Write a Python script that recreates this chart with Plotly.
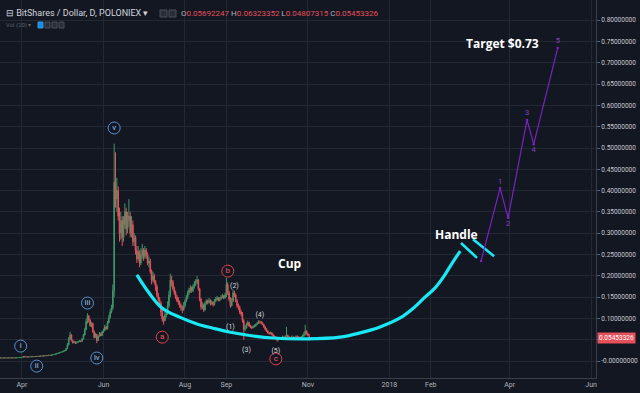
import plotly.graph_objects as go
import pandas as pd

# ---------------- data (daily candles, BTS/USD Poloniex) ----------------
start_date = "2017-03-15"
first_open = 0.0071

closes = [
    # Mar 15-31
    0.0070, 0.0072, 0.0069, 0.0071, 0.0073, 0.0070, 0.0072, 0.0074, 0.0071, 0.0073, 0.0075, 0.0072, 0.0074, 0.0076, 0.0078, 0.0080, 0.0082,
    # Apr
    0.0088, 0.0105, 0.0098, 0.0094, 0.0096, 0.0099, 0.0097, 0.0101, 0.0104, 0.0102, 0.0106, 0.0110, 0.0108, 0.0113, 0.0118,
    0.0115, 0.0121, 0.0126, 0.0123, 0.0130, 0.0136, 0.0133, 0.0141, 0.0148, 0.0155, 0.0162, 0.0175, 0.0186, 0.0198, 0.0205,
    # May
    0.0218, 0.0232, 0.0245, 0.0290, 0.0380, 0.0520, 0.0610, 0.0480, 0.0430, 0.0450, 0.0420, 0.0440, 0.0455, 0.0470, 0.0460, 0.0520,
    0.0610, 0.0740, 0.0920, 0.1050, 0.0960, 0.0830, 0.0880, 0.0690, 0.0560, 0.0620, 0.0480, 0.0580, 0.0640, 0.0600, 0.0680,
    # Jun
    0.0720, 0.0800, 0.0760, 0.0900, 0.1020, 0.1150, 0.1250, 0.1650, 0.4200, 0.3800, 0.4000, 0.3400, 0.3000, 0.3300, 0.2900,
    0.3200, 0.3500, 0.3100, 0.3300, 0.3400, 0.3000, 0.3200, 0.2800, 0.2900, 0.2600, 0.2400, 0.2550, 0.2300, 0.2500, 0.2600,
    # Jul
    0.2450, 0.2600, 0.2500, 0.2300, 0.2350, 0.2100, 0.1900, 0.2000, 0.1850, 0.1750, 0.1550, 0.1450, 0.1360, 0.1150, 0.0980, 0.0950,
    0.1080, 0.1120, 0.1300, 0.1550, 0.1900, 0.1850, 0.1700, 0.1600, 0.1500, 0.1420, 0.1380, 0.1300, 0.1250, 0.1200, 0.1300,
    # Aug
    0.1400, 0.1500, 0.1600, 0.1670, 0.1720, 0.1650, 0.1750, 0.1820, 0.1850, 0.1900, 0.1700, 0.1450, 0.1270, 0.1300, 0.1200, 0.1350,
    0.1400, 0.1380, 0.1420, 0.1350, 0.1380, 0.1320, 0.1400, 0.1450, 0.1480, 0.1420, 0.1460, 0.1500, 0.1520, 0.1480, 0.1550,
    # Sep
    0.1800, 0.1600, 0.1450, 0.1300, 0.1400, 0.1600, 0.1550, 0.1400, 0.1300, 0.1250, 0.1150, 0.1100, 0.0950, 0.0750, 0.0780,
    0.0850, 0.0900, 0.0820, 0.0800, 0.0780, 0.0800, 0.0820, 0.0850, 0.0880, 0.0920, 0.0910, 0.0900, 0.0860, 0.0800, 0.0750,
    # Oct
    0.0700, 0.0660, 0.0640, 0.0660, 0.0620, 0.0580, 0.0560, 0.0540, 0.0500, 0.0520, 0.0540, 0.0530, 0.0560, 0.0550, 0.0570, 0.0600,
    0.0560, 0.0540, 0.0550, 0.0560, 0.0540, 0.0550, 0.0570, 0.0560, 0.0550, 0.0540, 0.0560, 0.0580, 0.0620, 0.0700, 0.0640,
    # Nov 1-2
    0.0600, 0.05453326,
]

highs = [
    0.0073, 0.0074, 0.0073, 0.0073, 0.0075, 0.0074, 0.0074, 0.0076, 0.0075, 0.0075, 0.0077, 0.0076, 0.0076, 0.0078, 0.0080, 0.0083, 0.0085,
    0.0092, 0.0118, 0.0108, 0.0100, 0.0099, 0.0102, 0.0101, 0.0104, 0.0107, 0.0106, 0.0109, 0.0113, 0.0112, 0.0116, 0.0121,
    0.0120, 0.0124, 0.0129, 0.0128, 0.0133, 0.0139, 0.0138, 0.0144, 0.0151, 0.0159, 0.0166, 0.0180, 0.0192, 0.0204, 0.0212,
    0.0226, 0.0240, 0.0255, 0.0310, 0.0420, 0.0560, 0.0690, 0.0630, 0.0500, 0.0470, 0.0460, 0.0455, 0.0470, 0.0490, 0.0480, 0.0540,
    0.0640, 0.0780, 0.0980, 0.1120, 0.1080, 0.0980, 0.0920, 0.0900, 0.0720, 0.0660, 0.0640, 0.0600, 0.0680, 0.0670, 0.0710,
    0.0760, 0.0850, 0.0830, 0.0940, 0.1080, 0.1210, 0.1320, 0.1800, 0.5100, 0.4900, 0.4300, 0.4100, 0.3600, 0.3500, 0.3400,
    0.3400, 0.3700, 0.3600, 0.3500, 0.3800, 0.3500, 0.3400, 0.3300, 0.3000, 0.2950, 0.2700, 0.2700, 0.2600, 0.2650, 0.2750,
    0.2650, 0.2700, 0.2650, 0.2550, 0.2450, 0.2400, 0.2150, 0.2100, 0.2050, 0.1900, 0.1800, 0.1600, 0.1500, 0.1400, 0.1200, 0.1050,
    0.1150, 0.1200, 0.1400, 0.1650, 0.2050, 0.2000, 0.1900, 0.1750, 0.1650, 0.1550, 0.1500, 0.1420, 0.1350, 0.1300, 0.1380,
    0.1450, 0.1550, 0.1650, 0.1720, 0.1780, 0.1750, 0.1800, 0.1880, 0.1920, 0.2000, 0.1920, 0.1720, 0.1480, 0.1380, 0.1350, 0.1400,
    0.1450, 0.1440, 0.1480, 0.1450, 0.1420, 0.1400, 0.1450, 0.1500, 0.1530, 0.1500, 0.1500, 0.1550, 0.1580, 0.1550, 0.1600,
    0.1950, 0.1850, 0.1650, 0.1500, 0.1480, 0.1680, 0.1650, 0.1580, 0.1450, 0.1350, 0.1300, 0.1200, 0.1150, 0.0980, 0.0850,
    0.0900, 0.0950, 0.0920, 0.0850, 0.0830, 0.0840, 0.0860, 0.0880, 0.0920, 0.0960, 0.0950, 0.0940, 0.0920, 0.0870, 0.0820,
    0.0770, 0.0720, 0.0680, 0.0690, 0.0680, 0.0640, 0.0600, 0.0580, 0.0560, 0.0550, 0.0560, 0.0560, 0.0600, 0.0580, 0.0600, 0.0800,
    0.0620, 0.0580, 0.0570, 0.0600, 0.0580, 0.0570, 0.0600, 0.0600, 0.0580, 0.0570, 0.0590, 0.0620, 0.0680, 0.0850, 0.0720,
    0.0660, 0.06323352,
]

lows = [
    0.0068, 0.0069, 0.0067, 0.0068, 0.0070, 0.0068, 0.0069, 0.0071, 0.0069, 0.0070, 0.0072, 0.0070, 0.0071, 0.0073, 0.0075, 0.0077, 0.0079,
    0.0080, 0.0087, 0.0095, 0.0091, 0.0092, 0.0094, 0.0095, 0.0096, 0.0099, 0.0100, 0.0101, 0.0104, 0.0106, 0.0107, 0.0111,
    0.0113, 0.0114, 0.0119, 0.0120, 0.0122, 0.0128, 0.0130, 0.0131, 0.0139, 0.0146, 0.0152, 0.0160, 0.0171, 0.0182, 0.0193,
    0.0205, 0.0212, 0.0228, 0.0240, 0.0285, 0.0370, 0.0500, 0.0460, 0.0410, 0.0415, 0.0400, 0.0410, 0.0430, 0.0445, 0.0440, 0.0455,
    0.0510, 0.0600, 0.0720, 0.0880, 0.0900, 0.0800, 0.0790, 0.0660, 0.0530, 0.0540, 0.0420, 0.0470, 0.0560, 0.0580, 0.0590,
    0.0660, 0.0700, 0.0730, 0.0740, 0.0880, 0.1000, 0.1120, 0.1200, 0.1500, 0.3600, 0.3500, 0.3300, 0.2800, 0.2850, 0.2700,
    0.2800, 0.3100, 0.2950, 0.3000, 0.3150, 0.2900, 0.2900, 0.2700, 0.2700, 0.2500, 0.2300, 0.2350, 0.2200, 0.2250, 0.2400,
    0.2350, 0.2400, 0.2400, 0.2250, 0.2200, 0.2050, 0.1800, 0.1850, 0.1800, 0.1650, 0.1500, 0.1400, 0.1300, 0.1050, 0.0920, 0.0850,
    0.0930, 0.1020, 0.1080, 0.1250, 0.1500, 0.1750, 0.1650, 0.1550, 0.1450, 0.1380, 0.1320, 0.1250, 0.1180, 0.1120, 0.1180,
    0.1250, 0.1380, 0.1450, 0.1550, 0.1600, 0.1600, 0.1620, 0.1700, 0.1760, 0.1800, 0.1650, 0.1400, 0.1200, 0.1220, 0.1150, 0.1180,
    0.1320, 0.1330, 0.1350, 0.1300, 0.1320, 0.1280, 0.1300, 0.1380, 0.1420, 0.1400, 0.1400, 0.1440, 0.1470, 0.1450, 0.1460,
    0.1500, 0.1550, 0.1400, 0.1250, 0.1280, 0.1380, 0.1500, 0.1380, 0.1250, 0.1200, 0.1100, 0.1050, 0.0900, 0.0500, 0.0700,
    0.0760, 0.0830, 0.0800, 0.0770, 0.0750, 0.0770, 0.0790, 0.0810, 0.0850, 0.0870, 0.0880, 0.0860, 0.0840, 0.0780, 0.0720,
    0.0680, 0.0640, 0.0620, 0.0630, 0.0600, 0.0560, 0.0540, 0.0520, 0.0450, 0.0480, 0.0510, 0.0510, 0.0520, 0.0530, 0.0540, 0.0550,
    0.0540, 0.0520, 0.0530, 0.0530, 0.0520, 0.0530, 0.0540, 0.0540, 0.0530, 0.0520, 0.0530, 0.0550, 0.0570, 0.0600, 0.0620,
    0.0580, 0.04807315,
]

# cup curve (drawn annotation)
cup_dates = ["2017-06-26", "2017-07-05", "2017-07-15", "2017-07-28", "2017-08-10", "2017-08-22", "2017-09-03",
             "2017-09-16", "2017-10-06", "2017-10-31", "2017-11-25", "2017-12-10", "2017-12-25", "2018-01-09",
             "2018-01-20", "2018-01-27", "2018-02-04", "2018-02-11", "2018-02-17", "2018-02-23"]
cup_values = [0.202, 0.160, 0.124, 0.103, 0.087, 0.077, 0.068,
              0.061, 0.054, 0.052, 0.056, 0.066, 0.080, 0.101,
              0.127, 0.148, 0.171, 0.200, 0.230, 0.258]

# handle strokes
handle1_dates = ["2018-02-23 14:00", "2018-03-07 14:00"]
handle1_values = [0.277, 0.242]
handle2_dates = ["2018-03-04 14:00", "2018-03-20 08:00"]
handle2_values = [0.286, 0.246]

# projected impulse wave
wave_dates = ["2018-03-10 14:00", "2018-03-24 20:00", "2018-03-30 20:00", "2018-04-14", "2018-04-19", "2018-05-07"]
wave_values = [0.235, 0.406, 0.336, 0.566, 0.509, 0.735]
wave_labels = ["", "1", "2", "3", "4", "5"]
wave_label_pos = ["top center", "top center", "bottom center", "top center", "bottom center", "top center"]

# Elliott wave count labels
blue_dates = ["2017-03-31", "2017-04-12", "2017-05-20", "2017-05-27", "2017-06-09"]
blue_values = [0.035, -0.012, 0.136, 0.007, 0.547]
blue_text = ["i", "ii", "iii", "iv", "v"]

red_dates = ["2017-07-15", "2017-09-02", "2017-10-08"]
red_values = [0.056, 0.211, 0.005]
red_text = ["a", "b", "c"]

sub_dates = ["2017-09-04", "2017-09-07", "2017-09-16", "2017-09-26", "2017-10-08"]
sub_values = [0.080, 0.176, 0.026, 0.108, 0.023]
sub_text = ["(1)", "(2)", "(3)", "(4)", "(5)"]

# axis ticks
x_tickvals = ["2017-04-01", "2017-06-01", "2017-08-01", "2017-09-01", "2017-11-01",
              "2018-01-01", "2018-02-01", "2018-04-01", "2018-06-01"]
x_ticktext = ["Apr", "Jun", "Aug", "Sep", "Nov", "2018", "Feb", "Apr", "Jun"]
y_tickvals = [0.00, 0.05, 0.10, 0.15, 0.20, 0.25, 0.30, 0.35, 0.40, 0.45, 0.50, 0.55, 0.60, 0.65, 0.70, 0.75, 0.80]
y_ticktext = ["-0.00000000", "", "0.10000000", "0.15000000", "0.20000000", "0.25000000", "0.30000000", "0.35000000",
              "0.40000000", "0.45000000", "0.50000000", "0.55000000", "0.60000000", "0.65000000", "0.70000000",
              "0.75000000", "0.80000000"]

last_open, last_high, last_low, last_close = 0.05692247, 0.06323352, 0.04807315, 0.05453326

# ---------------- build ----------------
dates = pd.date_range(start_date, periods=len(closes), freq="D")
opens = [first_open] + closes[:-1]
opens[-1] = last_open
highs_f = [max(h, o, c) for h, o, c in zip(highs, opens, closes)]
lows_f = [min(l, o, c) for l, o, c in zip(lows, opens, closes)]

BG = "#131722"
GRID = "#242835"
GREEN = "#3f9767"
RED = "#e6505b"
CYAN = "#19e8f5"
PURPLE = "#7a22c4"
BLUE = "#5a8fcf"
FONT = "Roboto"

fig = go.Figure()

fig.add_trace(go.Candlestick(
    x=dates, open=opens, high=highs_f, low=lows_f, close=closes,
    increasing=dict(line=dict(color=GREEN, width=1), fillcolor=GREEN),
    decreasing=dict(line=dict(color=RED, width=1), fillcolor=RED),
    whiskerwidth=0, showlegend=False, hoverinfo="skip"))

fig.add_trace(go.Scatter(x=cup_dates, y=cup_values, mode="lines",
                         line=dict(color=CYAN, width=3.2, shape="spline", smoothing=1.0),
                         showlegend=False, hoverinfo="skip"))
fig.add_trace(go.Scatter(x=handle1_dates, y=handle1_values, mode="lines",
                         line=dict(color=CYAN, width=2.6), showlegend=False, hoverinfo="skip"))
fig.add_trace(go.Scatter(x=handle2_dates, y=handle2_values, mode="lines",
                         line=dict(color=CYAN, width=2.6), showlegend=False, hoverinfo="skip"))

fig.add_trace(go.Scatter(x=wave_dates, y=wave_values, mode="lines+markers+text",
                         line=dict(color=PURPLE, width=1.2),
                         marker=dict(size=2.5, color=PURPLE),
                         text=wave_labels, textposition=wave_label_pos,
                         textfont=dict(color="#8c3fc9", size=7.5, family=FONT),
                         showlegend=False, hoverinfo="skip"))

fig.add_trace(go.Scatter(x=blue_dates, y=blue_values, mode="markers+text",
                         marker=dict(size=12, color=BG, line=dict(color=BLUE, width=1)),
                         text=blue_text, textposition="middle center",
                         textfont=dict(color="#9cc2ee", size=8, family=FONT),
                         showlegend=False, hoverinfo="skip"))
fig.add_trace(go.Scatter(x=red_dates, y=red_values, mode="markers+text",
                         marker=dict(size=12, color=BG, line=dict(color="#e0404e", width=1)),
                         text=red_text, textposition="middle center",
                         textfont=dict(color="#ec5662", size=8, family=FONT),
                         showlegend=False, hoverinfo="skip"))
fig.add_trace(go.Scatter(x=sub_dates, y=sub_values, mode="text",
                         text=sub_text, textposition="middle center",
                         textfont=dict(color="#d6d8de", size=7, family=FONT),
                         showlegend=False, hoverinfo="skip"))

# plot area in px: x 0..596, y 0..378
def px(x):
    return x / 596.0

def py(y):
    return 1 - y / 378.0

annotations = [
    dict(x="2017-10-18 12:00", y=0.230, xref="x", yref="y", text="<b>Cup</b>", showarrow=False,
         font=dict(color="white", size=12, family="Open Sans")),
    dict(x="2018-02-20", y=0.298, xref="x", yref="y", text="<b>Handle</b>", showarrow=False,
         font=dict(color="white", size=12, family="Open Sans")),
    dict(x="2018-03-27", y=0.746, xref="x", yref="y", text="<b>Target $0.73</b>", showarrow=False,
         font=dict(color="white", size=12, family="Open Sans")),
    dict(x=px(4), y=py(13), xref="paper", yref="paper", xanchor="left", yanchor="middle", showarrow=False,
         text="⊟ BitShares / Dollar, D, POLONIEX ▾",
         font=dict(color="#d1d4dc", size=9, family=FONT)),
    dict(x=px(179), y=py(13), xref="paper", yref="paper", xanchor="left", yanchor="middle", showarrow=False,
         text=("O<span style='color:#e6505b'>%.8f</span> H<span style='color:#e6505b'>%.8f</span> "
               "L<span style='color:#e6505b'>%.8f</span> C<span style='color:#e6505b'>%.8f</span>")
              % (last_open, last_high, last_low, last_close),
         font=dict(color="#b2b5be", size=8, family=FONT)),
    dict(x=px(4), y=py(25), xref="paper", yref="paper", xanchor="left", yanchor="middle", showarrow=False,
         text="Vol (20) ▾", font=dict(color="#5d606b", size=6, family=FONT)),
    dict(x=1, y=last_close, xref="paper", yref="y", xanchor="left", yanchor="middle", showarrow=False,
         xshift=1, text="%.8f" % last_close, bgcolor=RED, borderpad=1,
         font=dict(color="white", size=6.5, family=FONT)),
]

shapes = []
for x0 in (160, 169):
    shapes.append(dict(type="rect", xref="paper", yref="paper", x0=px(x0), x1=px(x0 + 7),
                       y0=py(17), y1=py(10), line=dict(color="#4a4e5a", width=1), fillcolor="#2a2e39"))
for i, x0 in enumerate((38, 45, 52, 59)):
    shapes.append(dict(type="rect", xref="paper", yref="paper", x0=px(x0), x1=px(x0 + 5),
                       y0=py(28), y1=py(22), line=dict(color="#2d9cdb" if i == 0 else "#4a4e5a", width=1),
                       fillcolor="#1e88e5" if i == 0 else "#2a2e39"))

fig.update_layout(
    width=640, height=393,
    margin=dict(l=0, r=44, t=0, b=15),
    paper_bgcolor=BG, plot_bgcolor=BG,
    showlegend=False,
    annotations=annotations, shapes=shapes,
    xaxis=dict(type="date", range=["2017-03-15 13:00", "2018-06-04 15:00"],
               tickvals=x_tickvals, ticktext=x_ticktext,
               showgrid=True, gridcolor=GRID, gridwidth=1,
               tickfont=dict(color="#b2b5be", size=7, family=FONT),
               showline=True, linecolor="#3a3e4b", linewidth=1,
               zeroline=False, rangeslider=dict(visible=False), fixedrange=True),
    yaxis=dict(side="right", range=[-0.0399, 0.8474],
               tickvals=y_tickvals, ticktext=y_ticktext,
               showgrid=True, gridcolor=GRID, gridwidth=1,
               tickfont=dict(color="#c8cad0", size=6.5, family=FONT),
               ticks="outside", ticklen=3, tickcolor="#5d606b",
               showline=True, linecolor="#3a3e4b", linewidth=1,
               zeroline=False, fixedrange=True),
)

fig.write_html("out.html",
               config={"displayModeBar": False, "staticPlot": True},
               post_script="document.body.style.margin='0';document.body.style.padding='0';"
                           "document.body.style.overflow='hidden';document.body.style.background='#131722';")
